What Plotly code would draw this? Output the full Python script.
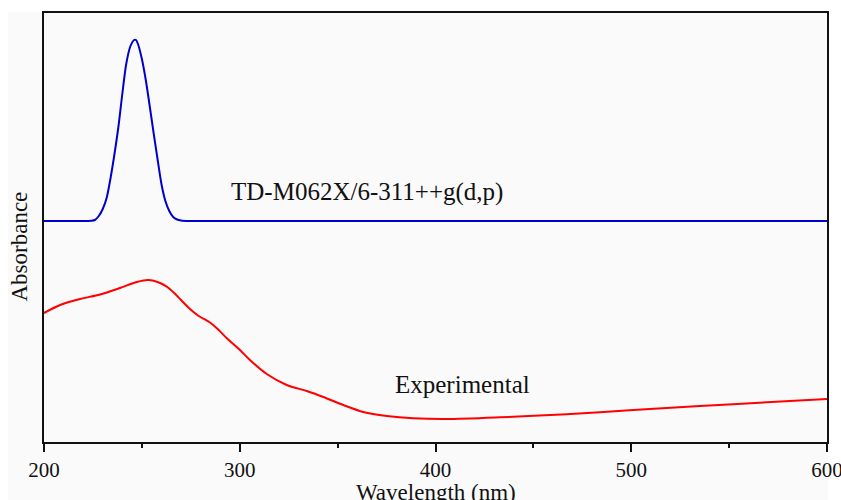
import plotly.graph_objects as go

# Calculated spectrum (TD-M062X/6-311++g(d,p)), arbitrary absorbance units
calc_wavelength = [200, 220, 224, 226, 228, 230, 232, 234, 236, 238, 240, 242, 244, 246,
                   247, 248, 250, 252, 254, 256, 258, 260, 262, 264, 266, 268, 270, 274,
                   300, 400, 500, 600]
calc_absorbance = [2.21, 2.21, 2.213, 2.22, 2.26, 2.33, 2.44, 2.64, 2.88, 3.15, 3.48, 3.78,
                   3.95, 4.02, 4.02, 3.98, 3.83, 3.62, 3.36, 3.09, 2.83, 2.58, 2.41, 2.31,
                   2.25, 2.225, 2.215, 2.21, 2.21, 2.21, 2.21, 2.21]

# Experimental spectrum, arbitrary absorbance units
exp_wavelength = [200, 208.2, 218.4, 228.6, 238.8, 247.4, 253.3, 259.3, 263.0, 266.5, 270.0,
                  274.0, 279.0, 284.8, 289.0, 293.3, 300.1, 305.2, 313.8, 324.0, 334.2,
                  342.7, 352.9, 363.1, 375.1, 388.7, 405.8, 433.0, 467.0, 501.0, 535.1,
                  569.2, 600]
exp_absorbance = [1.29, 1.37, 1.43, 1.475, 1.54, 1.60, 1.62, 1.59, 1.55, 1.49, 1.42,
                  1.34, 1.26, 1.195, 1.125, 1.04, 0.92, 0.82, 0.68, 0.57, 0.51,
                  0.45, 0.37, 0.30, 0.26, 0.237, 0.23, 0.247, 0.277, 0.32, 0.36,
                  0.397, 0.43]

x_ticks = [200, 300, 400, 500, 600]
x_minor = [250, 350, 450, 550]

serif = "Liberation Serif, Times New Roman, serif"
ink = "#111111"

fig = go.Figure()
fig.add_trace(go.Scatter(x=calc_wavelength, y=calc_absorbance, mode="lines",
                         line=dict(color="#0000cc", width=2, shape="spline", smoothing=0.8),
                         showlegend=False, hoverinfo="skip"))
fig.add_trace(go.Scatter(x=exp_wavelength, y=exp_absorbance, mode="lines",
                         line=dict(color="#ff0000", width=2, shape="spline", smoothing=0.8),
                         showlegend=False, hoverinfo="skip"))

fig.update_layout(
    width=841, height=500,
    margin=dict(l=44, r=14, t=13, b=58, autoexpand=False),
    paper_bgcolor="#ffffff", plot_bgcolor="#fafafa",
    font=dict(family=serif, color=ink),
    xaxis=dict(range=[200, 600], tickvals=x_ticks, ticktext=[str(v) for v in x_ticks],
               ticks="outside", ticklen=8, tickwidth=2, tickcolor=ink,
               ticklabeloverflow="allow", automargin=False,
               minor=dict(tickvals=x_minor, ticks="outside", ticklen=4,
                          tickwidth=2, tickcolor=ink),
               showline=True, linecolor=ink, linewidth=2, mirror=True,
               showgrid=False, zeroline=False, tickfont=dict(size=21, family=serif)),
    yaxis=dict(range=[0, 4.29], showticklabels=False, ticks="", automargin=False,
               showline=True, linecolor=ink, linewidth=2, mirror=True,
               showgrid=False, zeroline=False),
    shapes=[dict(type="rect", xref="paper", yref="paper", x0=-0.046, x1=1.0013,
                 y0=-0.2, y1=1.0023, fillcolor="#fafafa", line=dict(width=0),
                 layer="below")],
    annotations=[
        dict(text="TD-M062X/6-311++g(d,p)", x=365, y=2.50, xref="x", yref="y",
             showarrow=False, font=dict(size=25, family=serif, color=ink)),
        dict(text="Experimental", x=414, y=0.58, xref="x", yref="y",
             showarrow=False, font=dict(size=25, family=serif, color=ink)),
        dict(text="Absorbance", x=-0.031, y=0.455, xref="paper", yref="paper",
             textangle=-90, showarrow=False, xanchor="center", yanchor="middle",
             font=dict(size=23, family=serif, color=ink)),
        dict(text="Wavelength (nm)", x=0.5, y=-0.118, xref="paper", yref="paper",
             showarrow=False, xanchor="center", yanchor="middle",
             font=dict(size=23, family=serif, color=ink)),
    ],
)

fig.write_html("out.html", config={"displayModeBar": False},
               post_script="document.body.style.margin='0';document.body.style.overflow='hidden';")
